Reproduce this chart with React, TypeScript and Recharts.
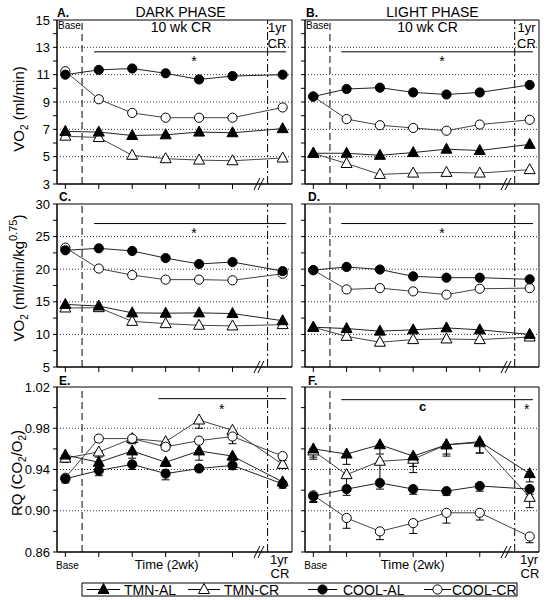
import React from "react";
import {
  LineChart,
  Line,
  XAxis,
  YAxis,
  ReferenceLine,
  ReferenceArea,
  ReferenceDot,
  ErrorBar,
} from "recharts";

const FONT = '"Liberation Sans", Arial, sans-serif';

// x positions: baseline, five 2-wk steps, then the 1 yr point after the axis break
const timePoints = [0, 1, 2, 3, 4, 5, 6.5];
const xTicks = [0, 1, 2, 3, 4, 5];
const X_DOMAIN = [-0.25, 6.78];

const seriesNames = ["TMN-AL", "TMN-CR", "COOL-AL", "COOL-CR"];

// A. dark phase, VO2 (ml/min)
const aTmnAl = [6.85, 6.8, 6.55, 6.6, 6.8, 6.75, 7.05];
const aTmnCr = [6.5, 6.4, 5.1, 4.85, 4.75, 4.7, 4.9];
const aCoolAl = [11.0, 11.35, 11.45, 11.1, 10.65, 10.9, 11.0];
const aCoolCr = [11.25, 9.2, 8.2, 7.85, 7.85, 7.85, 8.6];

// B. light phase, VO2 (ml/min)
const bTmnAl = [5.25, 5.25, 5.1, 5.3, 5.55, 5.45, 5.9];
const bTmnCr = [5.25, 4.5, 3.7, 3.8, 3.85, 3.8, 4.05];
const bCoolAl = [9.4, 9.95, 10.05, 9.7, 9.55, 9.7, 10.25];
const bCoolCr = [9.4, 7.75, 7.3, 7.1, 6.9, 7.35, 7.7];

// C. dark phase, VO2 (ml/min/kg^0.75)
const cTmnAl = [14.6, 14.35, 13.3, 13.25, 13.3, 13.2, 12.1];
const cTmnCr = [14.05, 14.1, 12.0, 11.65, 11.4, 11.3, 11.5];
const cCoolAl = [22.9, 23.2, 22.8, 21.7, 20.8, 21.1, 19.7];
const cCoolCr = [23.3, 20.1, 19.1, 18.4, 18.4, 18.3, 19.3];

// D. light phase, VO2 (ml/min/kg^0.75)
const dTmnAl = [11.1, 10.9, 10.5, 10.7, 11.0, 10.7, 10.0];
const dTmnCr = [11.1, 9.7, 8.8, 9.2, 9.3, 9.2, 9.6];
const dCoolAl = [19.85, 20.35, 19.95, 18.9, 18.7, 18.7, 18.45];
const dCoolCr = [19.85, 16.9, 17.1, 16.6, 16.1, 17.0, 17.1];

// E. dark phase, RQ
const eTmnAl = [0.954, 0.947, 0.958, 0.947, 0.958, 0.953, 0.928];
const eTmnCr = [0.951, 0.957, 0.97, 0.967, 0.988, 0.978, 0.945];
const eCoolAl = [0.931, 0.939, 0.945, 0.936, 0.941, 0.944, 0.926];
const eCoolCr = [0.932, 0.97, 0.97, 0.962, 0.968, 0.972, 0.953];
const eTmnAlErr = [0.005, 0.004, 0.007, 0.004, 0.009, 0.004, 0.004];
const eTmnCrErr = [0.004, 0.005, 0.005, 0.006, 0.008, 0.006, 0.004];
const eCoolAlErr = [0.004, 0.005, 0.005, 0.006, 0.003, 0.004, 0.004];
const eCoolCrErr = [0.003, 0.003, 0.003, 0.003, 0.003, 0.007, 0.004];

// F. light phase, RQ
const fTmnAl = [0.96, 0.955, 0.964, 0.953, 0.964, 0.967, 0.936];
const fTmnCr = [0.958, 0.935, 0.948, 0.95, 0.964, 0.966, 0.913];
const fCoolAl = [0.914, 0.921, 0.927, 0.921, 0.919, 0.924, 0.921];
const fCoolCr = [0.915, 0.893, 0.88, 0.888, 0.898, 0.898, 0.875];
const fTmnAlErr = [0.008, 0.01, 0.009, 0.01, 0.009, 0.011, 0.008];
const fTmnCrErr = [0.008, 0.015, 0.021, 0.013, 0.011, 0.01, 0.01];
const fCoolAlErr = [0.006, 0.006, 0.006, 0.005, 0.004, 0.005, 0.005];
const fCoolCrErr = [0.006, 0.01, 0.008, 0.01, 0.01, 0.007, 0.006];

// y ticks
const vo2Ticks = [3, 4, 5, 6, 7, 8, 9, 10, 11, 12, 13, 14, 15];
const vo2Labels = [3, 5, 7, 9, 11, 13, 15];
const vo2Grid = [5, 7, 9, 11, 13];
const massTicks = [5, 7.5, 10, 12.5, 15, 17.5, 20, 22.5, 25, 27.5, 30];
const massLabels = [5, 10, 15, 20, 25, 30];
const massGrid = [10, 15, 20, 25];
const rqTicks = [0.86, 0.88, 0.9, 0.92, 0.94, 0.96, 0.98, 1.0, 1.02];
const rqLabels = [0.86, 0.9, 0.94, 0.98, 1.02];
const rqGrid = [0.9, 0.94, 0.98];

const keys = ["tmnAl", "tmnCr", "coolAl", "coolCr"];
const markers = [
  { shape: "tri", filled: true },
  { shape: "tri", filled: false },
  { shape: "circle", filled: true },
  { shape: "circle", filled: false },
];
// draw order: CR first, AL on top
const drawOrder = [1, 0, 3, 2];

function Marker({ cx, cy, kind }: any) {
  if (cx == null || cy == null) return null;
  const fill = kind.filled ? "#000" : "#fff";
  if (kind.shape === "tri") {
    return (
      <polygon
        points={`${cx},${cy - 6} ${cx - 5.5},${cy + 4} ${cx + 5.5},${cy + 4}`}
        fill={fill}
        stroke="#000"
        strokeWidth={1}
      />
    );
  }
  return <circle cx={cx} cy={cy} r={4.6} fill={fill} stroke="#000" strokeWidth={1} />;
}

function BreakMark({ cx, cy }: any) {
  return (
    <g stroke="#000" strokeWidth={1}>
      <line x1={cx - 7} y1={cy + 6} x2={cx - 1} y2={cy - 6} />
      <line x1={cx - 3} y1={cy + 6} x2={cx + 3} y2={cy - 6} />
    </g>
  );
}

function buildRows(series: number[][], errs?: number[][]) {
  return timePoints.map((t, i) => {
    const row: any = { t };
    keys.forEach((k, s) => {
      row[k] = series[s][i];
      if (errs) row[k + "Err"] = [errs[s][i], 0];
    });
    return row;
  });
}

function Panel({ x0, x1, y0, y1, yDomain, yTicks, yLabels, grid, sig, rows, showLabels, errors }: any) {
  const w = x1 - x0;
  const h = y1 - y0;
  const near = (v: number) => yLabels.some((l: number) => Math.abs(l - v) < 1e-6);
  const fmt = (v: number) => {
    if (!showLabels || !near(v)) return "";
    return yDomain[1] < 2 ? v.toFixed(2) : String(v);
  };
  return (
    <div style={{ position: "absolute", left: x0 - 50, top: y0 - 10 }}>
      <LineChart
        width={50 + w + 10}
        height={10 + h + 30}
        data={rows}
        margin={{ top: 10, left: 10, right: 10, bottom: 10 }}
      >
        <XAxis
          type="number"
          dataKey="t"
          domain={X_DOMAIN}
          ticks={xTicks}
          interval={0}
          allowDataOverflow
          height={20}
          tickSize={5}
          tickFormatter={() => ""}
          axisLine={{ stroke: "#000" }}
          tickLine={{ stroke: "#000" }}
        />
        <YAxis
          type="number"
          domain={yDomain}
          ticks={yTicks}
          interval={0}
          allowDataOverflow
          width={40}
          tickSize={4}
          tickMargin={3}
          tickFormatter={fmt}
          axisLine={{ stroke: "#000" }}
          tickLine={{ stroke: "#000" }}
          tick={{ fontSize: 13, fill: "#000", fontFamily: FONT }}
        />
        {grid.map((g: number) => (
          <ReferenceLine key={g} y={g} stroke="#333" strokeDasharray="1 2" />
        ))}
        <ReferenceLine x={0.5} stroke="#000" strokeDasharray="7 4" />
        <ReferenceLine x={6.05} stroke="#000" strokeDasharray="8 3 2 3" />
        <ReferenceLine
          segment={[
            { x: sig.x1, y: sig.y },
            { x: sig.x2, y: sig.y },
          ]}
          stroke="#000"
        />
        <ReferenceArea
          x1={X_DOMAIN[0]}
          x2={X_DOMAIN[1]}
          y1={yDomain[0]}
          y2={yDomain[1]}
          fill="none"
          fillOpacity={0}
          stroke="#000"
          strokeWidth={1}
        />
        <ReferenceDot x={5.85} y={yDomain[0]} r={0} ifOverflow="visible" shape={BreakMark} />
        {drawOrder.map((s) => (
          <Line
            key={keys[s]}
            type="linear"
            dataKey={keys[s]}
            name={seriesNames[s]}
            stroke={s % 2 === 0 ? "#222" : "#444"}
            strokeWidth={1}
            isAnimationActive={false}
            activeDot={false}
            dot={(p: any) => <Marker key={`${keys[s]}-${p.index}`} cx={p.cx} cy={p.cy} kind={markers[s]} />}
          >
            {errors && (
              <ErrorBar dataKey={keys[s] + "Err"} width={4} stroke="#000" strokeWidth={1} direction="y" />
            )}
          </Line>
        ))}
      </LineChart>
    </div>
  );
}

const T = (props: any) => <text fontFamily={FONT} fill="#000" {...props} />;

function Overlay() {
  const legendItems = [
    { x: 87, len: 33, text: 124 },
    { x: 188, len: 32, text: 224 },
    { x: 308, len: 29, text: 343 },
    { x: 424, len: 27, text: 452 },
  ];
  return (
    <svg
      width={547}
      height={600}
      style={{ position: "absolute", left: 0, top: 0, pointerEvents: "none" }}
    >
      <T x={180.5} y={16.5} fontSize={14} textAnchor="middle">DARK PHASE</T>
      <T x={432.5} y={16.5} fontSize={14} textAnchor="middle">LIGHT PHASE</T>
      <T x={57} y={17} fontSize={12} fontWeight="bold">A.</T>
      <T x={306} y={17} fontSize={12} fontWeight="bold">B.</T>
      <T x={59} y={201} fontSize={12} fontWeight="bold">C.</T>
      <T x={308} y={201} fontSize={12} fontWeight="bold">D.</T>
      <T x={59} y={385} fontSize={12} fontWeight="bold">E.</T>
      <T x={308} y={385} fontSize={12} fontWeight="bold">F.</T>

      <T x={58} y={28.5} fontSize={10}>Base</T>
      <T x={306} y={28.5} fontSize={10}>Base</T>
      <T x={181} y={32} fontSize={14} textAnchor="middle">10 wk CR</T>
      <T x={427.5} y={32} fontSize={14} textAnchor="middle">10 wk CR</T>
      <T x={277} y={31.5} fontSize={13} textAnchor="middle">1yr</T>
      <T x={277} y={47.5} fontSize={13} textAnchor="middle">CR</T>
      <T x={526.5} y={31.5} fontSize={13} textAnchor="middle">1yr</T>
      <T x={526.5} y={47.5} fontSize={13} textAnchor="middle">CR</T>

      <T x={194} y={66} fontSize={14} textAnchor="middle">*</T>
      <T x={442} y={66} fontSize={14} textAnchor="middle">*</T>
      <T x={194} y={237.5} fontSize={14} textAnchor="middle">*</T>
      <T x={442} y={237.5} fontSize={14} textAnchor="middle">*</T>
      <T x={221.7} y={414} fontSize={14} textAnchor="middle">*</T>
      <T x={422.7} y={410.5} fontSize={13} fontWeight="bold" textAnchor="middle">c</T>
      <T x={526.7} y={414} fontSize={14} textAnchor="middle">*</T>

      <T x={67.5} y={569} fontSize={10} textAnchor="middle">Base</T>
      <T x={166.7} y={568.5} fontSize={13} textAnchor="middle">Time (2wk)</T>
      <T x={279} y={564} fontSize={13} textAnchor="middle">1yr</T>
      <T x={280} y={578} fontSize={13} textAnchor="middle">CR</T>
      <T x={315.7} y={569} fontSize={10} textAnchor="middle">Base</T>
      <T x={412.7} y={568.5} fontSize={13} textAnchor="middle">Time (2wk)</T>
      <T x={529} y={564} fontSize={13} textAnchor="middle">1yr</T>
      <T x={530} y={578} fontSize={13} textAnchor="middle">CR</T>

      <T transform="translate(23.5,109) rotate(-90)" fontSize={15} textAnchor="middle">
        VO<tspan dy={4} fontSize={10}>2</tspan>
        <tspan dy={-4}> (ml/min)</tspan>
      </T>
      <T transform="translate(23.5,278) rotate(-90)" fontSize={15} textAnchor="middle">
        VO<tspan dy={4} fontSize={10}>2</tspan>
        <tspan dy={-4}> (ml/min/kg</tspan>
        <tspan dy={-7} fontSize={11}>0.75</tspan>
        <tspan dy={7}>)</tspan>
      </T>
      <T transform="translate(22,473) rotate(-90)" fontSize={15} textAnchor="middle">
        RQ (CO<tspan dy={4} fontSize={10}>2</tspan>
        <tspan dy={-4}>/O</tspan>
        <tspan dy={4} fontSize={10}>2</tspan>
        <tspan dy={-4}>)</tspan>
      </T>

      <rect x={82} y={583} width={435} height={13} fill="#fff" stroke="#000" strokeWidth={1} />
      {legendItems.map((it, s) => (
        <g key={seriesNames[s]}>
          <line x1={it.x} x2={it.x + it.len} y1={589.5} y2={589.5} stroke="#000" strokeWidth={1} />
          <Marker cx={it.x + it.len / 2} cy={589.5} kind={markers[s]} />
          <T x={it.text} y={594.5} fontSize={14}>{seriesNames[s]}</T>
        </g>
      ))}
    </svg>
  );
}

export default function App() {
  const rowsA = buildRows([aTmnAl, aTmnCr, aCoolAl, aCoolCr]);
  const rowsB = buildRows([bTmnAl, bTmnCr, bCoolAl, bCoolCr]);
  const rowsC = buildRows([cTmnAl, cTmnCr, cCoolAl, cCoolCr]);
  const rowsD = buildRows([dTmnAl, dTmnCr, dCoolAl, dCoolCr]);
  const rowsE = buildRows([eTmnAl, eTmnCr, eCoolAl, eCoolCr], [eTmnAlErr, eTmnCrErr, eCoolAlErr, eCoolCrErr]);
  const rowsF = buildRows([fTmnAl, fTmnCr, fCoolAl, fCoolCr], [fTmnAlErr, fTmnCrErr, fCoolAlErr, fCoolCrErr]);

  const vo2 = { yDomain: [3, 15], yTicks: vo2Ticks, yLabels: vo2Labels, grid: vo2Grid };
  const mass = { yDomain: [5, 30], yTicks: massTicks, yLabels: massLabels, grid: massGrid };
  const rq = { yDomain: [0.86, 1.02], yTicks: rqTicks, yLabels: rqLabels, grid: rqGrid };

  return (
    <div
      style={{
        position: "absolute",
        left: 0,
        top: 0,
        width: 547,
        height: 600,
        background: "#fff",
        fontFamily: FONT,
      }}
    >
      <Panel x0={57} x1={292} y0={20} y1={184} {...vo2} rows={rowsA} showLabels sig={{ y: 12.67, x1: 0.86, x2: 6.6 }} />
      <Panel x0={305} x1={539} y0={20} y1={184} {...vo2} rows={rowsB} sig={{ y: 12.67, x1: 0.84, x2: 6.6 }} />
      <Panel x0={57} x1={292} y0={204} y1={367} {...mass} rows={rowsC} showLabels sig={{ y: 27, x1: 0.86, x2: 6.6 }} />
      <Panel x0={305} x1={539} y0={204} y1={367} {...mass} rows={rowsD} sig={{ y: 27, x1: 0.84, x2: 6.6 }} />
      <Panel x0={57} x1={292} y0={387} y1={552} {...rq} rows={rowsE} showLabels errors sig={{ y: 1.0087, x1: 2.78, x2: 6.6 }} />
      <Panel x0={305} x1={539} y0={387} y1={552} {...rq} rows={rowsF} errors sig={{ y: 1.0077, x1: 0.84, x2: 6.6 }} />
      <Overlay />
    </div>
  );
}
